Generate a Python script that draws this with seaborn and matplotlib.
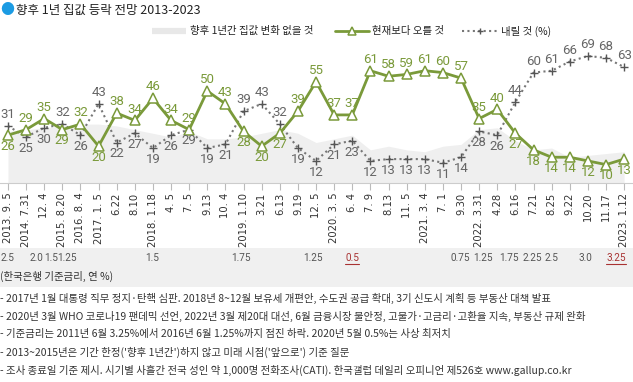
import numpy as np
import pandas as pd
import matplotlib
matplotlib.use('Agg')
import matplotlib.pyplot as plt
import seaborn as sns
from matplotlib.lines import Line2D
from matplotlib.patches import Rectangle
from matplotlib.transforms import blended_transform_factory

# Survey dates (x tick labels)
dates = ['2013. 9. 5', '2014. 7.31', '12. 4', '2015. 8.20', '2016. 8. 4', '2017. 1. 5',
         '6.22', '8.10', '2018. 1.18', '4. 5', '7. 5', '9.13', '10. 4', '2019. 1.10',
         '3.21', '6.13', '9.19', '12. 5', '2020. 3. 5', '6. 4', '7. 9', '8.13', '11. 5',
         '2021. 3. 4', '7. 1', '9.30', '2022. 3.31', '4.28', '6.16', '7.21', '8.25',
         '9.22', '10.20', '11.17', '2023. 1.12']

# 현재보다 오를 것
rise = [26, 29, 35, 29, 32, 20, 38, 34, 46, 34, 29, 50, 43, 28, 20, 27, 39, 55,
        37, 37, 61, 58, 59, 61, 60, 57, 35, 40, 27, 18, 14, 14, 12, 10, 13]
# 내릴 것
fall = [31, 25, 30, 32, 26, 43, 22, 27, 19, 26, 29, 19, 21, 39, 43, 32, 19, 12,
        21, 23, 12, 13, 13, 13, 11, 14, 28, 26, 44, 60, 61, 66, 69, 68, 63]
# 변화 없을 것 (estimated, unlabeled area)
same = [28, 29, 30, 31, 32, 32, 31, 29, 27, 25, 28, 24, 24, 25, 27, 29, 27, 22,
        24, 26, 18, 20, 18, 17, 20, 21, 29, 30, 23, 18, 19, 14, 15, 16, 17]

# 한국은행 기준금리 shown under selected surveys
rate_idx = [0, 2, 3, 4, 8, 13, 17, 19, 25, 26, 28, 29, 30, 32, 34]
rate_text = ['2.5', '2.0', '1.5', '1.25', '1.5', '1.75', '1.25', '0.5', '0.75',
             '1.25', '1.75', '2.25', '2.5', '3.0', '3.25']
rate_highlight = [19, 34]   # record low / latest
# label x positions in axis units (crowded labels are nudged apart)
rate_xpos = [-0.05, 1.60, 2.37, 3.27, 7.95, 12.85, 16.85, 19.0, 24.95, 26.2,
             27.62, 28.92, 29.98, 31.85, 33.55]

notes = [
    '- 2017년 1월 대통령 직무 정지·탄핵 심판. 2018년 8~12월 보유세 개편안, 수도권 공급 확대, 3기 신도시 계획 등 부동산 대책 발표',
    '- 2020년 3월 WHO 코로나19 팬데믹 선언, 2022년 3월 제20대 대선, 6월 금융시장 불안정, 고물가·고금리·고환율 지속, 부동산 규제 완화',
    '- 기준금리는 2011년 6월 3.25%에서 2016년 6월 1.25%까지 점진 하락. 2020년 5월 0.5%는 사상 최저치',
    '- 2013~2015년은 기간 한정(\'향후 1년간\')하지 않고 미래 시점(\'앞으로\') 기준 질문',
    '- 조사 종료일 기준 제시. 시기별 사흘간 전국 성인 약 1,000명 전화조사(CATI). 한국갤럽 데일리 오피니언 제526호 www.gallup.co.kr',
]

GREEN = '#7a9a3a'
GRAY_LINE = '#777777'
GRAY_TXT = '#666666'
AREA = '#efefef'
RED = '#a83232'

W, H = 633, 382
sns.set_theme(style='white')
plt.rcParams['font.family'] = ['Noto Sans CJK KR', 'DejaVu Sans']
NUM_FONT = ['Roboto', 'Noto Sans CJK KR']


def fx(px):
    return px / W


def fy(py):
    return 1 - py / H


fig = plt.figure(figsize=(W / 100, H / 100), dpi=100)
fig.patch.set_facecolor('white')

# rate band background (below the axes)
band = Rectangle((0, fy(287)), 1, (287 - 248) / H, transform=fig.transFigure,
                 facecolor='#f0f0f0', edgecolor='none', zorder=-5)
fig.add_artist(band)

ax = fig.add_axes([0, fy(183), 1, (183 - 40) / H])
ax.set_facecolor('none')

df = pd.DataFrame({'idx': np.arange(len(dates)), 'rise': rise, 'fall': fall, 'same': same})

ax.fill_between(df['idx'], 0, df['same'], color=AREA, lw=0, zorder=1)
sns.lineplot(data=df, x='idx', y='fall', ax=ax, color=GRAY_LINE, lw=1.5,
             linestyle=(0, (1, 1.6)), marker='+', markersize=5.5, markeredgewidth=1.0,
             markeredgecolor='#555555', zorder=3)
sns.lineplot(data=df, x='idx', y='rise', ax=ax, color=GREEN, lw=2.0,
             marker='^', markersize=6.5, markerfacecolor='white',
             markeredgecolor=GREEN, markeredgewidth=1.1, zorder=4)

# data labels: the higher series above, the lower below
for i in df['idx']:
    r, f = rise[i], fall[i]
    r_up = r >= f
    ax.annotate(str(r), (i, r), xytext=(0, 3.5 if r_up else -3.5), textcoords='offset points',
                ha='center', va='bottom' if r_up else 'top', color=GREEN,
                fontsize=9.5, family=NUM_FONT, zorder=5)
    ax.annotate(str(f), (i, f), xytext=(0, -3.5 if r_up else 3.5), textcoords='offset points',
                ha='center', va='top' if r_up else 'bottom', color=GRAY_TXT,
                fontsize=9.5, family=NUM_FONT, zorder=5)

ax.set_xlim(-0.44, 34.49)
ax.set_ylim(0, 77.7)
ax.set_xticks(df['idx'])
ax.set_xticklabels(dates, rotation=90, fontsize=7.2, family=['DejaVu Sans'], color='#333333')
ax.set_yticks([])
ax.set_xlabel('')
ax.set_ylabel('')
ax.tick_params(axis='x', bottom=True, length=5, width=0.8, color='#bbbbbb', pad=2)
for s in ['top', 'left', 'right']:
    ax.spines[s].set_visible(False)
ax.spines['bottom'].set_color('#cccccc')
ax.spines['bottom'].set_linewidth(0.8)

# title
fig.text(fx(0), fy(10), '●', color='#1b9be3', fontsize=10, va='center', ha='left')
fig.text(fx(16), fy(10), '향후 1년 집값 등락 전망 2013-2023', fontsize=9, va='center', ha='left',
         color='#222222')

# legend
ly = fy(31)
fig.add_artist(Line2D([fx(152), fx(186)], [ly, ly], color='#e8e8e8', lw=4.5, solid_capstyle='butt'))
fig.text(fx(190), ly, '향후 1년간 집값 변화 없을 것', fontsize=7.5, va='center', ha='left', color='#222222')
fig.add_artist(Line2D([fx(335), fx(369)], [ly, ly], color=GREEN, lw=2))
fig.add_artist(Line2D([fx(352)], [ly], color=GREEN, marker='^', markersize=5.5,
                      markerfacecolor='white', markeredgewidth=1.1, lw=0))
fig.text(fx(372), ly, '현재보다 오를 것', fontsize=7.5, va='center', ha='left', color='#222222')
fig.add_artist(Line2D([fx(462), fx(498)], [ly, ly], color=GRAY_LINE, lw=1.5, linestyle=(0, (1, 1.6))))
fig.add_artist(Line2D([fx(480)], [ly], color='#555555', marker='+', markersize=5, markeredgewidth=1, lw=0))
fig.text(fx(501), ly, '내릴 것 (%)', fontsize=7.5, va='center', ha='left', color='#222222')

# interest rate row
tr = blended_transform_factory(ax.transData, fig.transFigure)
rate_artists = []
for xp, t, ri in zip(rate_xpos, rate_text, rate_idx):
    c = RED if ri in rate_highlight else '#555555'
    txt = ax.text(xp, fy(258), t, transform=tr, ha='center', va='center', fontsize=7.2,
                  family=['Liberation Sans Narrow', 'Roboto'], color=c, clip_on=False, zorder=6)
    if ri in rate_highlight:
        rate_artists.append(txt)
fig.text(fx(0), fy(276), '(한국은행 기준금리, 연 %)', fontsize=7.5, va='center', ha='left', color='#333333')

fig.canvas.draw()
renderer = fig.canvas.get_renderer()
for txt in rate_artists:
    bb = txt.get_window_extent(renderer).transformed(fig.transFigure.inverted())
    fig.add_artist(Line2D([bb.x0, bb.x1], [bb.y0 - 0.003, bb.y0 - 0.003], color=RED, lw=0.8))

# notes
for k, line in enumerate(notes):
    fig.text(fx(0), fy(298 + 18 * k), line, fontsize=7.5, va='center', ha='left', color='#333333')

fig.savefig('out.png', dpi=100, facecolor='white')
